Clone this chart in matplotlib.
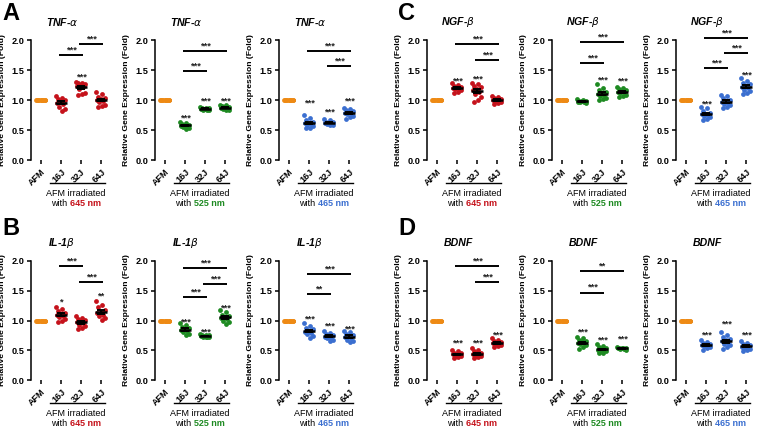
import numpy as np
import matplotlib.pyplot as plt
from matplotlib.transforms import blended_transform_factory

plt.rcParams['font.family'] = ['Liberation Sans', 'DejaVu Sans']

# ── data (fold change) ──
GROUPS = ["AFM", "16J", "32J", "64J"]
AFM = [1.00, 1.00, 1.00, 1.00, 1.00, 1.00, 1.00, 1.00, 1.00, 1.00]

TNF_645 = [[1.06, 1.04, 1.02, 1.00, 0.98, 0.95, 0.93, 0.88, 0.85, 0.81],
           [1.30, 1.29, 1.28, 1.27, 1.25, 1.24, 1.22, 1.18, 1.12, 1.10, 1.09],
           [1.13, 1.10, 1.05, 1.03, 1.01, 1.00, 0.99, 0.97, 0.92, 0.90, 0.89]]
TNF_525 = [[0.64, 0.62, 0.60, 0.59, 0.58, 0.57, 0.56, 0.55, 0.54, 0.52],
           [0.88, 0.87, 0.86, 0.86, 0.85, 0.85, 0.84, 0.84, 0.83],
           [0.92, 0.91, 0.90, 0.89, 0.88, 0.87, 0.86, 0.85, 0.84, 0.83]]
TNF_465 = [[0.75, 0.70, 0.67, 0.64, 0.62, 0.61, 0.60, 0.58, 0.56, 0.54, 0.53],
           [0.68, 0.66, 0.64, 0.63, 0.62, 0.62, 0.61, 0.60, 0.59, 0.58],
           [0.86, 0.85, 0.83, 0.82, 0.80, 0.79, 0.78, 0.76, 0.74, 0.71, 0.68]]

IL1_645 = [[1.23, 1.20, 1.16, 1.13, 1.11, 1.10, 1.08, 1.06, 1.03, 1.00, 0.97],
           [1.07, 1.05, 1.03, 1.01, 0.99, 0.97, 0.95, 0.93, 0.91, 0.88, 0.85],
           [1.32, 1.26, 1.22, 1.18, 1.15, 1.12, 1.10, 1.07, 1.04, 1.01]]
IL1_525 = [[0.95, 0.92, 0.89, 0.87, 0.85, 0.84, 0.82, 0.80, 0.78, 0.75],
           [0.77, 0.76, 0.75, 0.75, 0.74, 0.74, 0.73, 0.73, 0.72, 0.72],
           [1.17, 1.14, 1.10, 1.08, 1.06, 1.04, 1.02, 1.00, 0.97, 0.94]]
IL1_465 = [[0.95, 0.91, 0.88, 0.85, 0.83, 0.81, 0.79, 0.77, 0.74, 0.70],
           [0.82, 0.79, 0.77, 0.75, 0.74, 0.73, 0.71, 0.70, 0.68, 0.66],
           [0.83, 0.80, 0.78, 0.76, 0.74, 0.72, 0.70, 0.68, 0.66, 0.64]]

NGF_645 = [[1.28, 1.25, 1.23, 1.22, 1.21, 1.20, 1.19, 1.18, 1.16, 1.14, 1.11],
           [1.28, 1.26, 1.23, 1.21, 1.19, 1.17, 1.14, 1.10, 1.05, 1.00, 0.96],
           [1.07, 1.05, 1.03, 1.02, 1.01, 1.00, 0.99, 0.98, 0.97, 0.95, 0.93]]
NGF_525 = [[1.02, 1.00, 0.99, 0.98, 0.98, 0.97, 0.97, 0.96, 0.95],
           [1.26, 1.20, 1.16, 1.14, 1.12, 1.10, 1.08, 1.06, 1.04, 1.02, 1.00],
           [1.22, 1.20, 1.18, 1.16, 1.15, 1.14, 1.13, 1.11, 1.09, 1.07, 1.05]]
NGF_465 = [[0.88, 0.86, 0.82, 0.79, 0.77, 0.76, 0.75, 0.73, 0.71, 0.69, 0.67],
           [1.09, 1.06, 1.03, 1.00, 0.98, 0.97, 0.95, 0.93, 0.91, 0.89, 0.87],
           [1.37, 1.32, 1.29, 1.26, 1.24, 1.22, 1.20, 1.17, 1.15, 1.12, 1.10]]

BDNF_645 = [[0.51, 0.48, 0.46, 0.45, 0.44, 0.43, 0.42, 0.41, 0.40, 0.38, 0.37],
            [0.53, 0.50, 0.48, 0.46, 0.45, 0.44, 0.43, 0.41, 0.40, 0.38, 0.37],
            [0.70, 0.67, 0.65, 0.64, 0.63, 0.62, 0.61, 0.60, 0.59, 0.57, 0.56]]
BDNF_525 = [[0.72, 0.70, 0.68, 0.66, 0.65, 0.63, 0.62, 0.60, 0.58, 0.55, 0.52],
            [0.60, 0.57, 0.55, 0.53, 0.52, 0.51, 0.50, 0.49, 0.48, 0.46, 0.45],
            [0.55, 0.54, 0.54, 0.53, 0.53, 0.53, 0.52, 0.52, 0.51]]
BDNF_465 = [[0.67, 0.64, 0.62, 0.61, 0.60, 0.59, 0.58, 0.57, 0.55, 0.53, 0.50],
            [0.80, 0.75, 0.72, 0.69, 0.67, 0.65, 0.63, 0.61, 0.58, 0.55, 0.52],
            [0.66, 0.63, 0.61, 0.59, 0.57, 0.56, 0.55, 0.54, 0.52, 0.50, 0.48]]

# significance vs AFM: (label, y of asterisk centre) for 16J, 32J, 64J
STARS = {
    "TNF_645": [("", 0), ("***", 1.44), ("", 0)],
    "TNF_525": [("***", 0.75), ("***", 1.04), ("***", 1.04)],
    "TNF_465": [("***", 1.00), ("***", 0.86), ("***", 1.04)],
    "IL1_645": [("*", 1.37), ("", 0), ("**", 1.47)],
    "IL1_525": [("***", 1.04), ("***", 0.87), ("***", 1.27)],
    "IL1_465": [("***", 1.08), ("***", 0.96), ("***", 0.91)],
    "NGF_645": [("***", 1.38), ("***", 1.40), ("", 0)],
    "NGF_525": [("", 0), ("***", 1.39), ("***", 1.38)],
    "NGF_465": [("***", 0.99), ("", 0), ("***", 1.47)],
    "BDNF_645": [("***", 0.68), ("***", 0.68), ("***", 0.82)],
    "BDNF_525": [("***", 0.86), ("***", 0.73), ("***", 0.75)],
    "BDNF_465": [("***", 0.82), ("***", 1.00), ("***", 0.82)],
}
# pairwise comparisons: (group i, group j, bracket height, label)
BRACKETS = {
    "TNF_645": [(1, 2, 1.75, "***"), (2, 3, 1.93, "***")],
    "TNF_525": [(1, 2, 1.48, "***"), (1, 3, 1.82, "***")],
    "TNF_465": [(2, 3, 1.57, "***"), (1, 3, 1.82, "***")],
    "IL1_645": [(1, 2, 1.92, "***"), (2, 3, 1.65, "***")],
    "IL1_525": [(1, 2, 1.39, "***"), (2, 3, 1.61, "***"), (1, 3, 1.88, "***")],
    "IL1_465": [(1, 2, 1.45, "**"), (1, 3, 1.78, "***")],
    "NGF_645": [(2, 3, 1.67, "***"), (1, 3, 1.93, "***")],
    "NGF_525": [(1, 2, 1.61, "***"), (1, 3, 1.96, "***")],
    "NGF_465": [(1, 2, 1.53, "***"), (2, 3, 1.78, "***"), (1, 3, 2.03, "***")],
    "BDNF_645": [(2, 3, 1.65, "***"), (1, 3, 1.92, "***")],
    "BDNF_525": [(1, 2, 1.47, "***"), (1, 3, 1.83, "**")],
    "BDNF_465": [],
}

WAVES = ["645", "525", "465"]
WAVE_COLORS = {"645": "#c5121b", "525": "#1e8a22", "465": "#3b6fd0"}
AFM_COLOR = "#ee8a14"

# (key, values, gene title, row label, column index)
PANELS = [
    ("TNF_645", TNF_645, r"TNF-$\alpha$", "A", 0),
    ("TNF_525", TNF_525, r"TNF-$\alpha$", "A", 1),
    ("TNF_465", TNF_465, r"TNF-$\alpha$", "A", 2),
    ("IL1_645", IL1_645, r"IL-1$\beta$", "B", 0),
    ("IL1_525", IL1_525, r"IL-1$\beta$", "B", 1),
    ("IL1_465", IL1_465, r"IL-1$\beta$", "B", 2),
    ("NGF_645", NGF_645, r"NGF-$\beta$", "C", 0),
    ("NGF_525", NGF_525, r"NGF-$\beta$", "C", 1),
    ("NGF_465", NGF_465, r"NGF-$\beta$", "C", 2),
    ("BDNF_645", BDNF_645, "BDNF", "D", 0),
    ("BDNF_525", BDNF_525, "BDNF", "D", 1),
    ("BDNF_465", BDNF_465, "BDNF", "D", 2),
]

W, H = 759, 428
# pixel layout: left edges per block column, top/bottom per row
LEFTS = {"A": [31, 155, 279], "B": [31, 155, 279],
         "C": [427, 552, 676], "D": [427, 552, 676]}
ROWS = {"A": (40, 160), "C": (40, 160), "B": (261, 380), "D": (261, 380)}
AX_W = 80


def jitter(n):
    # fixed scatter-spread pattern so dots don't sit on top of each other
    return ((np.arange(n) * 0.618) % 1.0 - 0.5) * 0.5


def draw_panel(fig, key, groups, title, row, col):
    left = LEFTS[row][col]
    top, bottom = ROWS[row]
    ax = fig.add_axes([left / W, 1 - bottom / H, AX_W / W, (bottom - top) / H])
    wave = WAVES[col]
    color = WAVE_COLORS[wave]

    all_vals = [AFM] + groups
    for i, vals in enumerate(all_vals):
        vals = np.asarray(vals)
        c = AFM_COLOR if i == 0 else color
        m = vals.mean()
        sem = vals.std(ddof=1) / np.sqrt(len(vals))
        ax.scatter(i + jitter(len(vals)), vals, s=12, color=c, lw=0,
                   zorder=2 if i else 4)
        ax.plot([i - 0.32, i + 0.32], [m, m], color="black", lw=1.8, zorder=3,
                solid_capstyle="butt")
        if sem > 0:
            ax.errorbar(i, m, yerr=sem, color="black", lw=1.4, capsize=3.2,
                        capthick=1.4, zorder=3)

    for i, (lab, y) in enumerate(STARS[key], start=1):
        if lab:
            ax.text(i, y - 0.1, lab, ha="center", va="baseline",
                    fontsize=6.8, fontweight="bold", color="#222222")

    for i, j, y, lab in BRACKETS[key]:
        ax.plot([i - 0.12, j + 0.12], [y, y], color="black", lw=1.4,
                clip_on=False, solid_capstyle="butt")
        ax.text((i + j) / 2, y + 0.01, lab, ha="center", va="bottom",
                fontsize=6.8, fontweight="bold", color="#222222")

    ax.set_xlim(-0.5, 3.5)
    ax.set_ylim(0, 2.0)
    ax.set_yticks([0, 0.5, 1.0, 1.5, 2.0])
    ax.set_yticklabels(["0.0", "0.5", "1.0", "1.5", "2.0"],
                       fontsize=6.6, fontweight="bold")
    ax.set_xticks(range(4))
    ax.set_xticklabels(GROUPS, rotation=45, ha="right", rotation_mode="anchor",
                       fontsize=6.5, fontweight="bold")
    for s in ["top", "right", "bottom"]:
        ax.spines[s].set_visible(False)
    ax.spines["left"].set_linewidth(1.1)
    ax.tick_params(axis="y", length=3, width=1.1, pad=1.5)
    ax.tick_params(axis="x", length=3, width=1.1, pad=2)
    ax.set_ylabel("Relative Gene Expression (Fold)", fontsize=6.1, fontweight="bold")
    ax.yaxis.set_label_coords(-0.31, 0.5)
    ax.patch.set_visible(False)

    ax.text(1.05, 2.0 + 18 / 60, title, ha="center", va="center",
            fontsize=7.6, fontweight="bold", fontstyle="italic")

    # grouping line and caption under the irradiated groups
    tr = blended_transform_factory(ax.transData, ax.transAxes)
    h = bottom - top
    ax.plot([0.45, 3.2], [-23 / h, -23 / h], color="black", lw=1.0,
            transform=tr, clip_on=False)
    ax.text(1.72, -34 / h, "AFM irradiated", transform=tr, ha="center",
            va="center", fontsize=6.5)
    ax.text(1.33, -44 / h, "with", transform=tr, ha="right", va="center",
            fontsize=6.5)
    ax.text(1.47, -44 / h, wave + " nm", transform=tr, ha="left", va="center",
            fontsize=6.5, fontweight="bold", color=color)
    return ax


fig = plt.figure(figsize=(W / 100, H / 100), dpi=100)
fig.patch.set_facecolor("white")

for key, groups, title, row, col in PANELS:
    draw_panel(fig, key, groups, title, row, col)

for lab, x, y in [("A", 2, 2), ("B", 2, 217), ("C", 398, 2), ("D", 398, 217)]:
    fig.text(x / W, 1 - y / H, lab, ha="left", va="top",
             fontsize=17, fontweight="bold")

fig.savefig("out.png", dpi=100)
